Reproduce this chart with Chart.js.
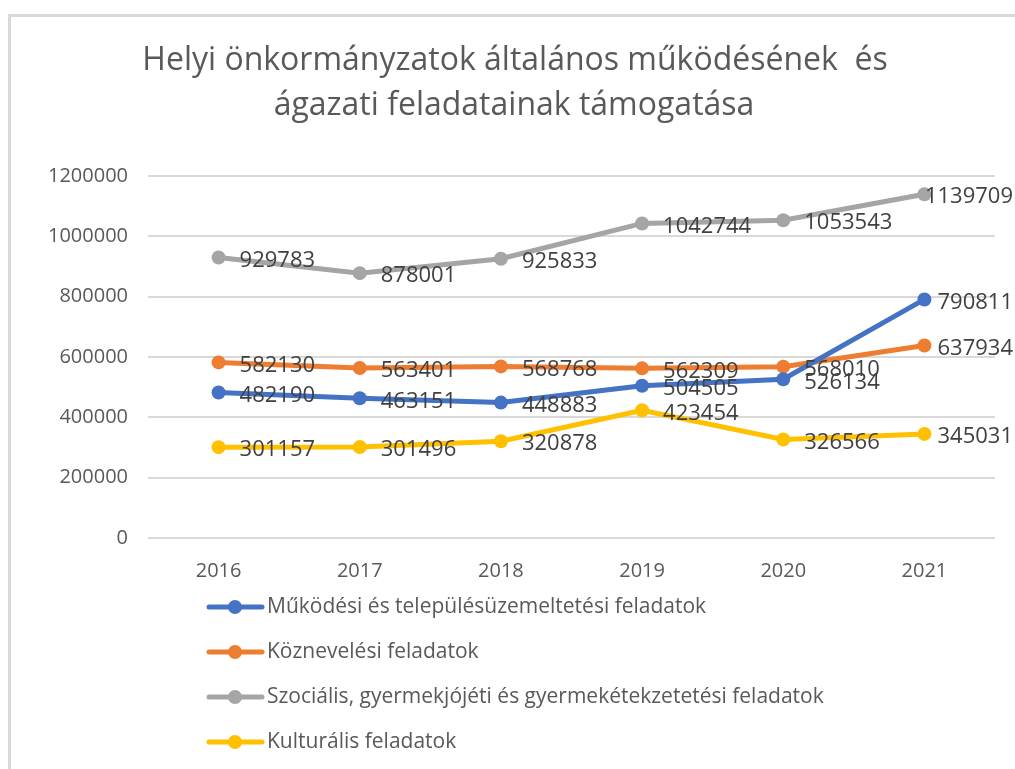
<!DOCTYPE html>
<html>
<head>
<meta charset="utf-8">
<script src="https://cdn.jsdelivr.net/npm/chart.js@4"></script>
<style>
  html, body { margin: 0; padding: 0; background: #fff; }
</style>
</head>
<body>
<canvas id="myChart" width="1015" height="769"></canvas>
<script>
const years = ['2016', '2017', '2018', '2019', '2020', '2021'];
const mukodesi = [482190, 463151, 448883, 504505, 526134, 790811];
const koznevelesi = [582130, 563401, 568768, 562309, 568010, 637934];
const szocialis = [929783, 878001, 925833, 1042744, 1053543, 1139709];
const kulturalis = [301157, 301496, 320878, 423454, 326566, 345031];

const seriesNames = [
    'Működési és településüzemeltetési feladatok',
    'Köznevelési feladatok',
    'Szociális, gyermekjójéti és gyermekétekzetetési feladatok',
    'Kulturális feladatok'
];
const seriesColors = ['#4472c4', '#ed7d31', '#a5a5a5', '#ffc000'];
const titleLines = ['Helyi önkormányzatok általános működésének  és', 'ágazati feladatainak támogatása'];

const FONT = "'Open Sans', sans-serif";

// frame, title, value labels and the legend list are drawn here
const extras = {
    id: 'extras',
    beforeDraw(chart) {
        const ctx = chart.ctx;
        ctx.save();
        ctx.strokeStyle = '#d9d9d9';
        ctx.lineWidth = 3;
        ctx.strokeRect(9.5, 15.5, 2000, 2000);

        ctx.fillStyle = '#595959';
        ctx.font = `32px ${FONT}`;
        ctx.textAlign = 'center';
        ctx.textBaseline = 'middle';
        ctx.fillText(titleLines[0], 515, 61);
        ctx.fillText(titleLines[1], 514, 106);
        ctx.restore();
    },
    afterDatasetsDraw(chart) {
        const ctx = chart.ctx;
        ctx.save();
        ctx.font = `22px ${FONT}`;
        ctx.fillStyle = '#404040';
        ctx.textAlign = 'left';
        ctx.textBaseline = 'middle';
        chart.data.datasets.forEach((ds, i) => {
            chart.getDatasetMeta(i).data.forEach((pt, j) => {
                const txt = String(ds.data[j]);
                const w = ctx.measureText(txt).width;
                // keep the label inside the frame, like the original does
                const x = Math.min(pt.x + 21, 1013 - w);
                ctx.fillText(txt, x, pt.y + 3);
            });
        });
        ctx.restore();
    },
    afterDraw(chart) {
        const ctx = chart.ctx;
        ctx.save();
        ctx.font = `21px ${FONT}`;
        ctx.textBaseline = 'middle';
        chart.data.datasets.forEach((ds, i) => {
            let y = 607 + i * 45;
            ctx.strokeStyle = ds.borderColor;
            ctx.lineWidth = 5;
            ctx.lineCap = 'round';
            ctx.beginPath();
            ctx.moveTo(209, y);
            ctx.lineTo(262, y);
            ctx.stroke();
            ctx.fillStyle = ds.borderColor;
            ctx.beginPath();
            ctx.arc(235, y, 7, 0, Math.PI * 2);
            ctx.fill();
            ctx.fillStyle = '#595959';
            ctx.fillText(ds.label, 267, y);
        });
        ctx.restore();
    }
};

function makeDataset(i, values) {
    return {
        label: seriesNames[i],
        data: values,
        borderColor: seriesColors[i],
        backgroundColor: seriesColors[i],
        borderWidth: 5,
        pointRadius: 7,
        pointHoverRadius: 7,
        pointBorderWidth: 0,
        tension: 0
    };
}

const ctx = document.getElementById('myChart').getContext('2d');

const myChart = new Chart(ctx, {
    type: 'line',
    data: {
        labels: years,
        datasets: [
            makeDataset(0, mukodesi),
            makeDataset(1, koznevelesi),
            makeDataset(2, szocialis),
            makeDataset(3, kulturalis)
        ]
    },
    options: {
        responsive: false,
        animation: false,
        layout: {
            padding: { top: 176, right: 20, bottom: 191, left: 0 }
        },
        plugins: {
            legend: { display: false },
            title: { display: false },
            tooltip: { enabled: false }
        },
        scales: {
            x: {
                offset: true,
                grid: { display: false, drawTicks: false },
                border: { display: false },
                ticks: {
                    padding: 21,
                    color: '#595959',
                    font: { family: FONT, size: 20 }
                },
                afterFit(scale) { scale.height = 40; }
            },
            y: {
                min: 0,
                max: 1200000,
                ticks: {
                    stepSize: 200000,
                    padding: 20,
                    color: '#595959',
                    font: { family: FONT, size: 20 },
                    callback: (v) => String(v)
                },
                grid: { color: '#d9d9d9', lineWidth: 2, drawTicks: false },
                border: { display: false },
                afterFit(scale) { scale.width = 148; }
            }
        }
    },
    plugins: [extras]
});
</script>
</body>
</html>
